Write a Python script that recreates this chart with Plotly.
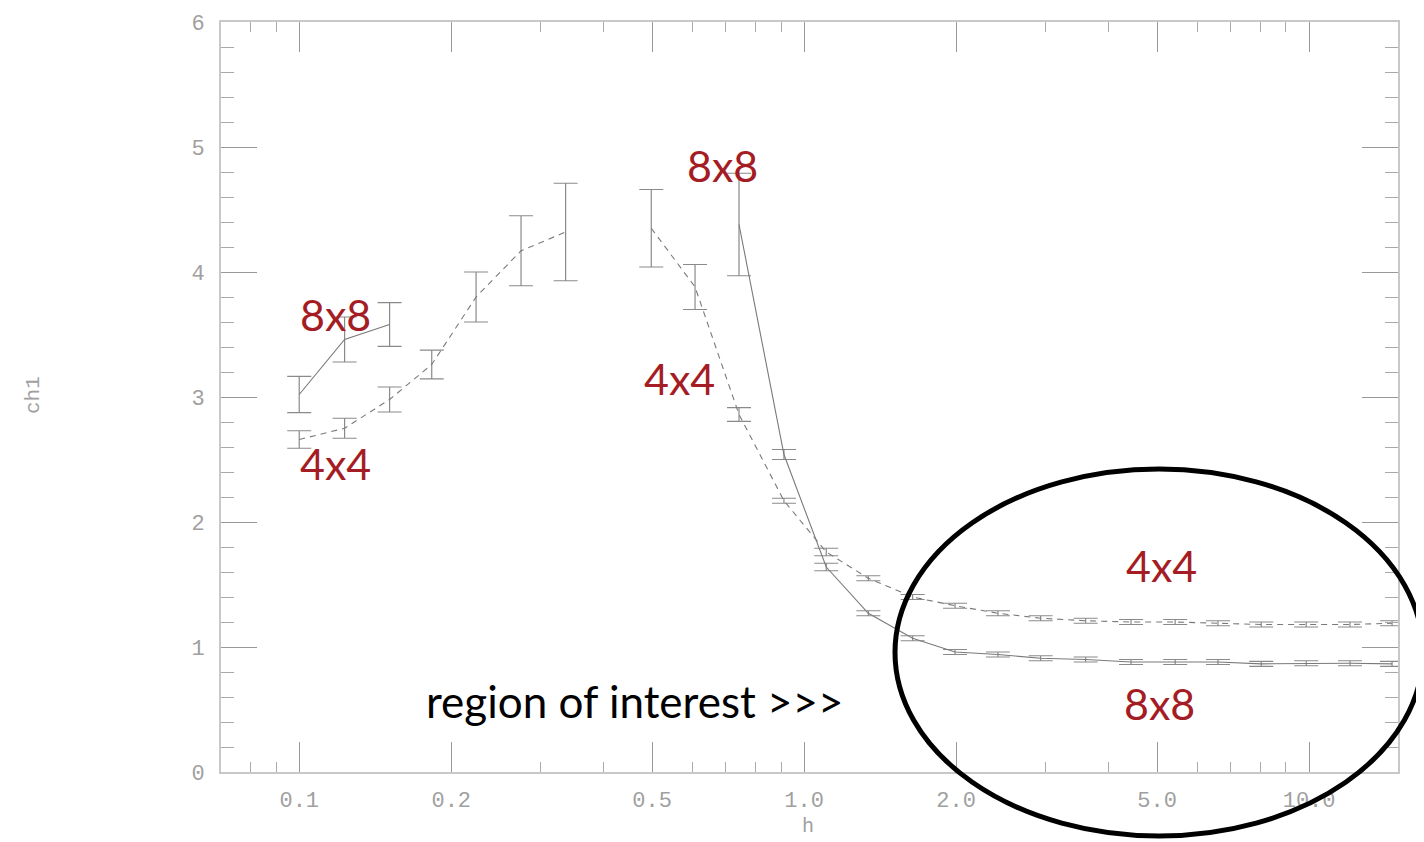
import numpy as np
import plotly.graph_objects as go

# ---- data ----
h_4x4_left = [0.100, 0.123, 0.151, 0.183, 0.224, 0.275, 0.337]
ch1_4x4_left = [2.66, 2.75, 2.98, 3.26, 3.80, 4.17, 4.32]
err_4x4_left = [0.07, 0.08, 0.10, 0.115, 0.20, 0.28, 0.39]

h_4x4_right = [0.498, 0.608, 0.743, 0.912, 1.106, 1.34, 1.64, 1.99, 2.42, 2.94,
               3.61, 4.44, 5.43, 6.6, 8.04, 9.87, 12.05, 14.6]
ch1_4x4_right = [4.35, 3.88, 2.86, 2.17, 1.76, 1.55, 1.40, 1.33, 1.27, 1.23,
                 1.21, 1.20, 1.20, 1.19, 1.18, 1.18, 1.18, 1.19]
err_4x4_right = [0.31, 0.18, 0.055, 0.02, 0.03, 0.02, 0.02, 0.02, 0.02, 0.02,
                 0.02, 0.02, 0.02, 0.02, 0.02, 0.02, 0.02, 0.02]

h_8x8_left = [0.100, 0.123, 0.151]
ch1_8x8_left = [3.02, 3.46, 3.58]
err_8x8_left = [0.145, 0.18, 0.175]

h_8x8_right = [0.743, 0.912, 1.106, 1.34, 1.64, 1.99, 2.42, 2.94, 3.61, 4.44,
               5.43, 6.6, 8.04, 9.87, 12.05, 14.6]
ch1_8x8_right = [4.38, 2.54, 1.64, 1.27, 1.07, 0.96, 0.94, 0.91, 0.90, 0.88,
                 0.88, 0.88, 0.865, 0.87, 0.87, 0.865]
err_8x8_right = [0.41, 0.04, 0.03, 0.02, 0.02, 0.02, 0.02, 0.02, 0.02, 0.02,
                 0.02, 0.02, 0.02, 0.02, 0.02, 0.02]

x_ticks = [0.1, 0.2, 0.5, 1.0, 2.0, 5.0, 10.0]
x_ticktext = ["0.1", "0.2", "0.5", "1.0", "2.0", "5.0", "10.0"]
x_minor = [0.08, 0.09, 0.3, 0.4, 0.6, 0.7, 0.8, 0.9, 3, 4, 6, 7, 8, 9]
y_ticks = [0, 1, 2, 3, 4, 5, 6]

# ---- layout geometry (page pixels; page body adds an 8px offset) ----
OFF = 8
W, H = 1424 - OFF, 842 - OFF
L, R, T, B = 221, 1398, 22, 772


def px(xp):
    return (xp - L) / (R - L)


def py(yp):
    return (B - yp) / (B - T)


LINE = "#7a7a7a"
ERR = "#8a8a8a"
RED = "#a51d24"
GREY_TXT = "#a0a0a0"

fig = go.Figure()


def add(xs, ys, es, dash):
    fig.add_trace(go.Scatter(
        x=xs, y=ys, mode="lines",
        line=dict(color=LINE, width=1.1, dash=dash),
        error_y=dict(type="data", array=es, color=ERR, thickness=1.2, width=12),
        showlegend=False, hoverinfo="skip"))


add(h_4x4_left, ch1_4x4_left, err_4x4_left, "6px,5px")
add(h_4x4_right, ch1_4x4_right, err_4x4_right, "6px,5px")
add(h_8x8_left, ch1_8x8_left, err_8x8_left, "solid")
add(h_8x8_right, ch1_8x8_right, err_8x8_right, "solid")

tickfont = dict(family="Liberation Mono", size=22, color=GREY_TXT)

fig.update_xaxes(
    type="log", range=[np.log10(0.07), np.log10(15)],
    tickmode="array", tickvals=x_ticks, ticktext=x_ticktext,
    ticks="inside", ticklen=30, tickcolor="#999", tickwidth=1.2,
    minor=dict(tickmode="array", tickvals=x_minor, ticks="inside",
               ticklen=10, tickcolor="#aaa", tickwidth=1.2),
    showline=True, linecolor="#c8c8c8", linewidth=2, mirror="ticks",
    showgrid=False, zeroline=False, tickfont=tickfont, ticklabelstandoff=7,
    automargin=False,
)
fig.update_yaxes(
    range=[0, 6], tickmode="array", tickvals=y_ticks,
    ticks="inside", ticklen=36, tickcolor="#999", tickwidth=1.2,
    minor=dict(dtick=0.2, ticks="inside", ticklen=13, tickcolor="#aaa", tickwidth=1.2),
    showline=True, linecolor="#c8c8c8", linewidth=2, mirror="ticks",
    showgrid=False, zeroline=False, tickfont=tickfont, ticklabelstandoff=10,
    automargin=False,
)

# axis titles
fig.add_annotation(x=px(808), y=py(827), xref="paper", yref="paper", text="h",
                   showarrow=False, font=dict(family="Liberation Mono", size=20, color=GREY_TXT),
                   xanchor="center", yanchor="middle")
fig.add_annotation(x=px(34), y=py(395), xref="paper", yref="paper", text="ch1",
                   showarrow=False, textangle=-90,
                   font=dict(family="Liberation Mono", size=21, color=GREY_TXT),
                   xanchor="center", yanchor="middle")

labels = [
    ("8x8", 335, 314),
    ("4x4", 335, 463),
    ("8x8", 722, 166),
    ("4x4", 679, 378),
    ("4x4", 1161, 565),
    ("8x8", 1159, 703),
]
for txt, xp, yp in labels:
    fig.add_annotation(x=px(xp), y=py(yp), xref="paper", yref="paper",
                       text=txt, showarrow=False,
                       font=dict(family="Lato", size=43, color=RED),
                       xanchor="center", yanchor="middle")

fig.add_annotation(x=px(635), y=py(701), xref="paper", yref="paper",
                   text="region of interest >>>", showarrow=False,
                   font=dict(family="Lato", size=44, color="black"),
                   xanchor="center", yanchor="middle")

fig.add_shape(type="circle", xref="paper", yref="paper",
              x0=px(895), x1=px(1423), y0=py(836), y1=py(469),
              line=dict(color="black", width=5))

fig.update_layout(
    width=W, height=H,
    margin=dict(l=L - OFF, r=(W + OFF) - R, t=T - OFF, b=(H + OFF) - B),
    paper_bgcolor="white", plot_bgcolor="white",
)

fig.write_html("out.html")
